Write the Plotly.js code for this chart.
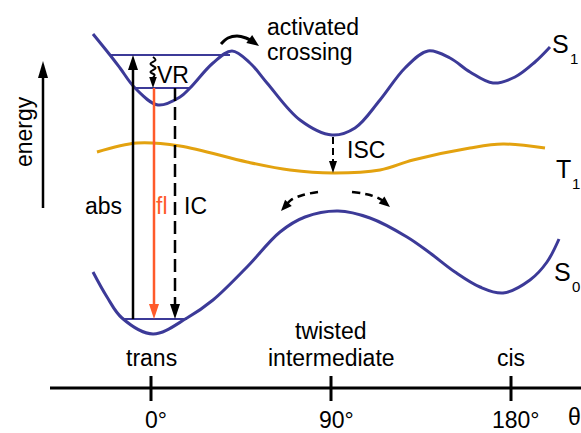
<!DOCTYPE html>
<html><head><meta charset="utf-8">
<script src="https://cdn.plot.ly/plotly-3.0.1.min.js"></script>
<style>html,body{margin:0;padding:0;background:#fff}#chart{width:581px;height:433px}</style>
</head><body><div id="chart"></div>
<script>
const FONT = '"Liberation Sans", Arial, Helvetica, sans-serif';
const BLUE = '#3c3a98', ORANGE = '#e3a20f', RED = '#ff5a2a', BLACK = '#000';

// Potential energy curves (torsion angle in degrees, energy in arbitrary units)
const S0_theta = [-29, -22, -14.5, 1, 18, 31, 48, 64.5, 77, 93.5, 109.5, 128, 139.5, 152, 164.5, 176, 189.5, 198, 204];
const S0_E     = [116, 91, 70, 54, 70, 88, 121, 156, 171, 177, 170, 151, 135, 116, 101, 95, 108, 126, 149];
const S1_theta = [-29, -20.5, -15.5, -8, 3.5, 14.5, 19.5, 31, 40.5, 49.5, 58, 74.5, 90.5, 102, 114.5, 127, 138.5, 149.5, 159.5, 171, 182, 192, 199.5];
const S1_E     = [354, 333, 320, 300, 283, 291, 300, 325, 337, 325, 305, 268, 253, 260, 288, 320, 337, 330, 316, 305, 311, 326, 341];
const T1_theta = [-27, -7, 14.5, 48, 69.5, 91, 114.5, 131, 159.5, 176, 197];
const T1_E     = [236, 245, 242, 226, 218, 215, 218, 228, 240, 244, 240];

// Vibrational levels
const levelTheta0 = [-20.5, -8, -14.5];
const levelTheta1 = [39.5, 19.5, 18];
const levelE      = [333, 300, 69];

// Axis ticks
const tickVals   = [0, 90, 180];
const tickLabels = ['0°', '90°', '180°'];
const stateLabels = ['trans', 'intermediate', 'cis'];

// State labels on the right: letter, subscript
const curveNames = ['S', 'T', 'S'];
const curveSubs  = ['1', '1', '0'];
const nameX = [204.5, 206, 205.5], nameE = [344, 219.5, 116];
const subX  = [211.5, 212.5, 212.5], subE = [330, 205, 102];

const XR = [-75.5, 215], YR = [-45, 388], W = 581, H = 433;
const toPx = (x, y) => [(x - XR[0]) / (XR[1] - XR[0]) * W, (YR[1] - y) / (YR[1] - YR[0]) * H];
const toData = (px, py) => [XR[0] + px / W * (XR[1] - XR[0]), YR[1] - py / H * (YR[1] - YR[0])];

// Arrows: points in data units, last point = tip
const arrows = [
  {pts: [[-9, 69], [-9, 333]], color: BLACK, width: 2.5, L: 15, hw: 5},                      // abs
  {pts: [[1.5, 300], [1.5, 69]], color: RED, width: 2.5, L: 15, hw: 5},                      // fl
  {pts: [[12, 300], [12, 69]], color: BLACK, width: 2.5, L: 15, hw: 5, dash: '13px,6px'},    // IC
  {pts: [[91, 251], [91, 215]], color: BLACK, width: 2, L: 12, hw: 4, dash: '7px,4px'},      // ISC
  {pts: [[-54, 180], [-54, 327]], color: BLACK, width: 2.5, L: 17, hw: 5},                   // energy
  {pts: [[1, 331], [2.3, 328], [-0.3, 324], [2.3, 320], [-0.3, 316], [1.8, 313], [1, 310], [1, 300]],
   color: BLACK, width: 2, L: 11, hw: 3.8, spline: true},                                      // VR
  {pts: [[35, 344], [38.5, 350], [43, 352], [47.5, 350], [50.5, 347], [54, 342]],
   color: BLACK, width: 3, L: 12, hw: 5, spline: true},                                        // activated crossing
  {pts: [[83.5, 196], [76, 193], [70, 188], [65, 177]], color: BLACK, width: 2.5, L: 11, hw: 4.5,
   spline: true, dash: '8px,5px'},
  {pts: [[100.5, 196], [109.5, 193], [115, 188.5], [119.5, 181]], color: BLACK, width: 2.5, L: 11, hw: 4.5,
   spline: true, dash: '8px,5px'}
];

const traces = [];
const shapes = [];
function line(xs, ys, color, width, opts) {
  opts = opts || {};
  traces.push({x: xs, y: ys, mode: 'lines', type: 'scatter', hoverinfo: 'skip',
    line: {color: color, width: width, dash: opts.dash || 'solid', shape: opts.spline ? 'spline' : 'linear', simplify: false}});
}

line(S0_theta, S0_E, BLUE, 3, {spline: true});
line(S1_theta, S1_E, BLUE, 3, {spline: true});
line(T1_theta, T1_E, ORANGE, 3, {spline: true});
for (let i = 0; i < levelE.length; i++) line([levelTheta0[i], levelTheta1[i]], [levelE[i], levelE[i]], BLUE, 2);

// theta axis
line([-50.5, 215], [0, 0], BLACK, 3);
tickVals.forEach(t => line([t, t], [12, -13], BLACK, 3));

arrows.forEach(a => {
  const n = a.pts.length;
  const tip = toPx(a.pts[n - 1][0], a.pts[n - 1][1]);
  const prev = toPx(a.pts[n - 2][0], a.pts[n - 2][1]);
  let dx = tip[0] - prev[0], dy = tip[1] - prev[1];
  const len = Math.hypot(dx, dy); dx /= len; dy /= len;
  const base = [tip[0] - a.L * dx, tip[1] - a.L * dy];
  const c1 = toData(base[0] - a.hw * dy, base[1] + a.hw * dx);
  const c2 = toData(base[0] + a.hw * dy, base[1] - a.hw * dx);
  const t = a.pts[n - 1];
  const end = toData(tip[0] - a.L * 0.6 * dx, tip[1] - a.L * 0.6 * dy);
  const xs = a.pts.slice(0, n - 1).map(p => p[0]).concat([end[0]]);
  const ys = a.pts.slice(0, n - 1).map(p => p[1]).concat([end[1]]);
  line(xs, ys, a.color, a.width, {dash: a.dash, spline: a.spline});
  shapes.push({type: 'path', xref: 'x', yref: 'y', layer: 'above',
    path: `M${t[0]},${t[1]} L${c1[0]},${c1[1]} L${c2[0]},${c2[1]} Z`,
    fillcolor: a.color, line: {width: 0}});
});

const annotations = [];
function txt(text, x, y, opts) {
  opts = opts || {};
  annotations.push(Object.assign({text: text, x: x, y: y, xref: 'x', yref: 'y', showarrow: false,
    xanchor: 'center', yanchor: 'middle', font: {family: FONT, size: opts.size || 23, color: opts.color || BLACK}}, opts.extra || {}));
}
txt('energy', -63.5, 256, {extra: {textangle: -90}});
txt('abs', -24, 182);
txt('fl', 5.5, 182, {color: RED});
txt('IC', 22, 182);
txt('VR', 11, 313.5);
txt('activated', 57, 361, {extra: {xanchor: 'left'}});
txt('crossing', 57, 336, {extra: {xanchor: 'left'}});
txt('ISC', 97, 238, {extra: {xanchor: 'left'}});
curveNames.forEach((s, i) => {
  txt(s, nameX[i], nameE[i], {size: 25});
  txt(curveSubs[i], subX[i], subE[i], {size: 15});
});
txt('twisted', 90, 57);
stateLabels.forEach((s, i) => txt(s, tickVals[i], 30));
tickLabels.forEach((s, i) => txt(s, tickVals[i] + 2.5, -31.5));
txt('θ', 207.5, -29, {extra: {xanchor: 'left'}});

Plotly.newPlot('chart', traces, {
  width: W, height: H, margin: {l: 0, r: 0, t: 0, b: 0},
  paper_bgcolor: '#fff', plot_bgcolor: '#fff', showlegend: false,
  xaxis: {range: XR, visible: false, fixedrange: true},
  yaxis: {range: YR, visible: false, fixedrange: true},
  shapes: shapes, annotations: annotations
}, {displayModeBar: false, staticPlot: true});
</script></body></html>
